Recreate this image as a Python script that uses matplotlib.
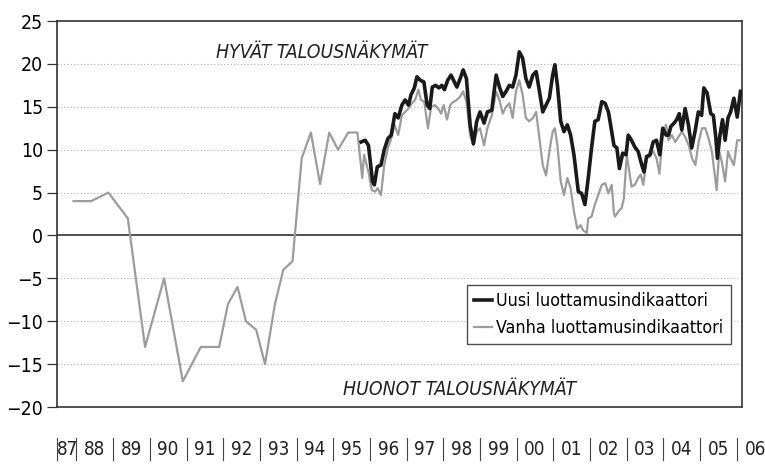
import matplotlib
matplotlib.use("Agg")
import matplotlib.pyplot as plt
import matplotlib.transforms as mtransforms
from matplotlib import font_manager as fm
from matplotlib.lines import Line2D

# pick a condensed face if one is installed
fonts = fm.fontManager.ttflist
names = {f.name for f in fonts}
stretch = "normal"
if "Liberation Sans Narrow" in names:
    family, scale = "Liberation Sans Narrow", 1.0
elif any(f.name == "DejaVu Sans" and f.stretch in ("condensed", 400, "semi-condensed") for f in fonts):
    family, scale, stretch = "DejaVu Sans", 0.9, "condensed"
else:
    family, scale = "Roboto", 0.82
plt.rcParams["font.family"] = [family, "DejaVu Sans"]
plt.rcParams["font.stretch"] = stretch

# Old indicator (1987-1995 sparse, monthly afterwards), decimal years
old_years = [
    1987.92, 1988.40, 1988.87, 1989.40, 1989.87, 1990.39, 1990.90, 1991.39,
    1991.89, 1992.13, 1992.39, 1992.62, 1992.90, 1993.14, 1993.41, 1993.64,
    1993.89, 1994.14, 1994.39, 1994.64, 1994.89, 1995.13, 1995.41, 1995.66,
    1995.79, 1995.84, 1995.96, 1996.05, 1996.14, 1996.21, 1996.30, 1996.39,
    1996.49, 1996.58, 1996.67, 1996.77, 1996.87, 1996.96, 1997.05, 1997.14,
    1997.23, 1997.32, 1997.39, 1997.48, 1997.58, 1997.67, 1997.77, 1997.86,
    1997.94, 1998.01, 1998.10, 1998.19, 1998.28, 1998.37, 1998.46, 1998.54,
    1998.63, 1998.73, 1998.82, 1998.91, 1999.00, 1999.11, 1999.20, 1999.32,
    1999.44, 1999.53, 1999.62, 1999.71, 1999.80, 1999.89, 1999.98, 2000.07,
    2000.16, 2000.25, 2000.34, 2000.44, 2000.53, 2000.62, 2000.71, 2000.80,
    2000.89, 2000.98, 2001.04, 2001.11, 2001.20, 2001.29, 2001.38, 2001.47,
    2001.56, 2001.65, 2001.74, 2001.81, 2001.91, 2001.95, 2002.04, 2002.13,
    2002.22, 2002.32, 2002.41, 2002.50, 2002.59, 2002.65, 2002.68, 2002.77,
    2002.86, 2002.92, 2003.00, 2003.07, 2003.13, 2003.22, 2003.31, 2003.38,
    2003.45, 2003.54, 2003.63, 2003.72, 2003.81, 2003.89, 2003.98, 2004.07,
    2004.14, 2004.23, 2004.32, 2004.41, 2004.50, 2004.59, 2004.69, 2004.78,
    2004.87, 2004.96, 2005.05, 2005.14, 2005.23, 2005.32, 2005.41, 2005.45,
    2005.52, 2005.59, 2005.68, 2005.76, 2005.83, 2005.92, 2006.01, 2006.10,
]
old_values = [
    4, 4, 5, 2, -13, -5, -17, -13,
    -13, -8, -6, -10, -11, -15, -8, -4,
    -3, 9, 12, 6, 12, 10, 12, 12,
    6.7, 9.4, 7.4, 5.3, 5.1, 5.5, 4.7, 8.2,
    10.2, 11.3, 12.9, 11.7, 14.0, 14.4, 14.8, 15.4,
    15.8, 17.0, 15.8, 15.6, 12.5, 15.0, 15.2, 14.8,
    14.2, 15.2, 13.5, 15.2, 15.6, 15.8, 16.2, 16.8,
    15.6, 11.7, 10.5, 12.1, 12.5, 10.5, 12.5, 14.0,
    16.8, 15.8, 14.2, 15.0, 15.4, 13.7, 16.8, 18.1,
    16.4, 13.7, 13.3, 13.7, 14.4, 11.3, 8.2, 7.0,
    9.8, 12.1, 12.5, 10.5, 6.3, 4.7, 6.7, 5.5,
    2.8, 0.8, 1.2, 0.6, 0.3, 2.0, 2.2, 3.6,
    4.7, 5.9, 6.1, 4.9, 5.9, 2.6, 2.2, 2.8,
    3.2, 4.3, 9.4, 7.4, 5.7, 5.9, 6.7, 7.1,
    5.9, 9.0, 9.2, 9.8, 9.0, 7.2, 11.7, 12.9,
    11.1, 11.7, 10.9, 11.5, 12.1, 11.5, 10.5, 9.0,
    8.2, 10.9, 12.5, 12.5, 11.3, 9.8, 6.7, 5.3,
    9.8, 8.6, 6.3, 9.8, 9.0, 8.2, 11.1, 11.1,
]

# New indicator (monthly from late 1995)
new_years = [
    1995.76, 1995.87, 1995.96, 1996.07, 1996.12, 1996.20, 1996.30, 1996.39,
    1996.49, 1996.58, 1996.68, 1996.77, 1996.87, 1996.96, 1997.05, 1997.12,
    1997.21, 1997.28, 1997.37, 1997.47, 1997.56, 1997.63, 1997.70, 1997.79,
    1997.88, 1997.96, 1998.03, 1998.12, 1998.21, 1998.30, 1998.37, 1998.46,
    1998.54, 1998.63, 1998.73, 1998.82, 1998.91, 1999.00, 1999.11, 1999.20,
    1999.32, 1999.44, 1999.53, 1999.62, 1999.71, 1999.80, 1999.89, 1999.98,
    2000.07, 2000.16, 2000.25, 2000.34, 2000.44, 2000.53, 2000.62, 2000.71,
    2000.80, 2000.89, 2000.98, 2001.04, 2001.11, 2001.20, 2001.29, 2001.38,
    2001.47, 2001.56, 2001.68, 2001.77, 2001.86, 2001.95, 2002.04, 2002.13,
    2002.22, 2002.32, 2002.41, 2002.50, 2002.59, 2002.65, 2002.73, 2002.80,
    2002.89, 2002.98, 2003.04, 2003.13, 2003.22, 2003.31, 2003.41, 2003.47,
    2003.54, 2003.63, 2003.72, 2003.81, 2003.90, 2003.98, 2004.07, 2004.14,
    2004.20, 2004.29, 2004.36, 2004.43, 2004.50, 2004.59, 2004.68, 2004.77,
    2004.86, 2004.95, 2005.04, 2005.10, 2005.19, 2005.29, 2005.36, 2005.43,
    2005.47, 2005.54, 2005.61, 2005.68, 2005.76, 2005.83, 2005.92, 2006.01,
    2006.10,
]
new_values = [
    10.9, 11.1, 10.5, 6.3, 5.9, 8.0, 8.2, 10.0,
    11.3, 11.7, 14.2, 13.7, 15.2, 15.8, 15.2, 16.4,
    17.2, 18.5, 18.1, 17.9, 15.2, 14.8, 17.3, 17.5,
    17.2, 17.5, 17.0, 18.1, 18.7, 17.9, 17.3, 18.3,
    19.3, 18.3, 12.9, 10.7, 13.3, 14.4, 13.1, 14.4,
    14.6, 18.7, 17.3, 16.2, 16.8, 17.5, 17.3, 18.7,
    21.4, 20.7, 18.3, 17.3, 18.7, 19.1, 16.8, 14.4,
    15.2, 16.0, 18.7, 19.9, 17.5, 13.3, 12.1, 12.9,
    11.7, 9.4, 5.1, 4.9, 3.6, 6.7, 10.2, 13.3,
    13.5, 15.6, 15.4, 14.4, 12.1, 10.5, 10.2, 7.8,
    9.6, 9.4, 11.7, 11.1, 10.3, 9.8, 8.2, 7.4,
    9.2, 9.4, 10.9, 11.1, 9.4, 12.5, 11.7, 11.7,
    12.7, 13.1, 13.5, 14.2, 12.3, 14.8, 12.9, 10.2,
    12.1, 14.4, 14.0, 17.2, 16.6, 14.2, 14.0, 11.3,
    9.0, 11.7, 13.5, 11.1, 13.7, 14.4, 16.0, 13.8,
    16.8,
]

year_labels = ["87", "88", "89", "90", "91", "92", "93", "94", "95", "96",
               "97", "98", "99", "00", "01", "02", "03", "04", "05", "06"]
label_pos = [1987.75] + [1988.5 + i for i in range(19)]
separators = [1988 + i for i in range(19)]

x_min, x_max = 1987.47, 2006.14

fig = plt.figure(figsize=(7.65, 4.65), dpi=100)
ax = fig.add_axes([0.0745, 0.1247, 0.8954, 0.8301])

for y in [-15, -10, -5, 5, 10, 15, 20]:
    ax.axhline(y, color="#b0b0b0", lw=0.8, ls=(0, (1, 2)), zorder=1)
ax.axhline(0, color="#222222", lw=1.1, zorder=2)

ax.plot(old_years, old_values, color="#9c9c9c", lw=1.6, zorder=3,
        label="Vanha luottamusindikaattori")
ax.plot(new_years, new_values, color="#1a1a1a", lw=2.6, zorder=4,
        label="Uusi luottamusindikaattori")

ax.set_xlim(x_min, x_max)
ax.set_ylim(-20, 25)
ax.set_yticks(range(-20, 26, 5))
ax.set_xticks([])
ax.tick_params(axis="y", length=7, width=0.9, color="#333333",
               labelsize=15.5 * scale, pad=3)
for s in ax.spines.values():
    s.set_color("#333333")
    s.set_linewidth(1.2)

ax.text(1994.69, 21.3, "HYVÄT TALOUSNÄKYMÄT", style="italic", fontsize=15.5 * scale,
        ha="center", va="center", color="#222222")
ax.text(1998.43, -17.9, "HUONOT TALOUSNÄKYMÄT", style="italic", fontsize=15.5 * scale,
        ha="center", va="center", color="#222222")

handles, labels = ax.get_legend_handles_labels()
leg = ax.legend(handles[::-1], labels[::-1], loc="upper right",
                bbox_to_anchor=(0.9835, 0.316), borderaxespad=0, fontsize=14.2 * scale,
                frameon=True, fancybox=False, handlelength=1.0,
                handletextpad=0.25, labelspacing=0.5, borderpad=0.4)
leg.get_frame().set_edgecolor("#222222")
leg.get_frame().set_linewidth(1.0)

# year labels with separators below the plot
trans = mtransforms.blended_transform_factory(ax.transData, ax.transAxes)
for pos, lab in zip(label_pos, year_labels):
    ax.text(pos, -0.109, lab, transform=trans, ha="center", va="center",
            fontsize=15 * scale, color="#222222", clip_on=False)
for sx in [x_min] + separators:
    ax.add_line(Line2D([sx, sx], [-0.08, -0.137], transform=trans,
                       color="#444444", lw=0.8, clip_on=False))

fig.savefig("out.png", dpi=100)
